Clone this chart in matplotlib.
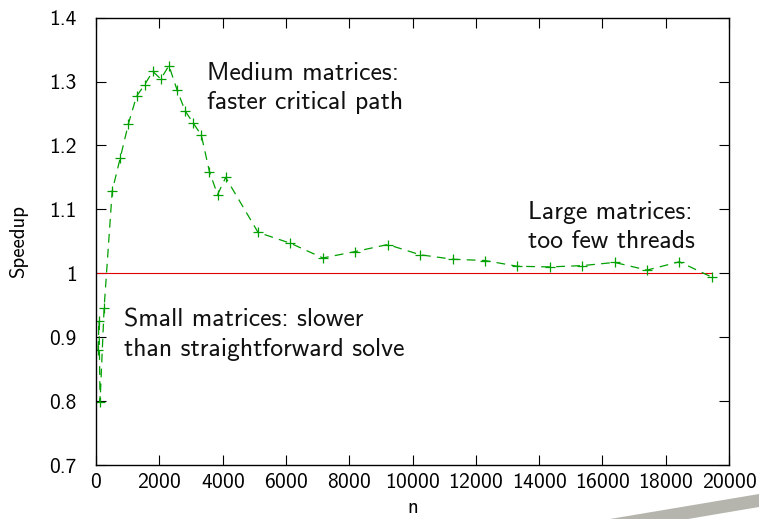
import matplotlib
matplotlib.use('Agg')
from matplotlib import pyplot as plt
from matplotlib.patches import Polygon

# matrix sizes and measured speedups
n_small = [64, 96, 128, 256]
n_mid = [512, 768, 1024, 1280, 1536, 1792, 2048, 2304, 2560, 2816, 3072, 3328, 3584, 3840, 4096]
n_large = [5120, 6144, 7168, 8192, 9216, 10240, 11264, 12288, 13312, 14336, 15360, 16384, 17408, 18432, 19456]

speedup_small = [0.880, 0.926, 0.799, 0.946]
speedup_mid = [1.129, 1.181, 1.234, 1.277, 1.295, 1.316, 1.304, 1.325, 1.287, 1.254,
               1.235, 1.216, 1.159, 1.123, 1.150]
speedup_large = [1.064, 1.047, 1.024, 1.034, 1.045, 1.029, 1.022, 1.020, 1.011, 1.010,
                 1.012, 1.017, 1.005, 1.018, 0.994]

n = n_small + n_mid + n_large
speedup = speedup_small + speedup_mid + speedup_large

plt.rcParams['font.family'] = ['cmss10', 'DejaVu Sans']
plt.rcParams['axes.formatter.use_mathtext'] = True

fig = plt.figure(figsize=(7.59, 5.19), dpi=100)
ax = fig.add_axes([0.1265, 0.104, 0.834, 0.862])

# baseline at speedup 1
ax.plot([0, n[-1]], [1, 1], color='#e00000', linewidth=0.8)
ax.plot(n, speedup, color='#00a000', linestyle=(0, (7, 5)), linewidth=0.9,
        marker='+', markersize=6.5, markeredgewidth=0.9)

ax.set_xlim(0, 20000)
ax.set_ylim(0.7, 1.4)
ax.set_xticks(range(0, 20001, 2000))
ax.set_yticks([0.7, 0.8, 0.9, 1.0, 1.1, 1.2, 1.3, 1.4])
ax.set_yticklabels(['0.7', '0.8', '0.9', '1', '1.1', '1.2', '1.3', '1.4'])
ax.tick_params(direction='in', length=7, width=0.8, top=True, right=True, labelsize=15.5)
ax.tick_params(axis='y', pad=14)
ax.tick_params(axis='x', pad=6)
for s in ax.spines.values():
    s.set_linewidth(1.0)

ax.set_xlabel('n', fontsize=15, labelpad=4)
ax.set_ylabel('Speedup', fontsize=15, labelpad=15)

ax.text(3500, 1.2895, 'Medium matrices:\nfaster critical path', fontsize=18.5,
        va='center', ha='left', linespacing=1.35, color='#111111')
ax.text(13650, 1.072, 'Large matrices:\ntoo few threads', fontsize=18.5,
        va='center', ha='left', linespacing=1.35, color='#111111')
ax.text(900, 0.9036, 'Small matrices: slower\nthan straightforward solve', fontsize=18.5,
        va='center', ha='left', linespacing=1.35, color='#111111')

# grey strip in the lower right corner
fig.patches.append(Polygon([(610 / 759, 0), (1, 25 / 519), (1, 12 / 519), (688 / 759, 0)],
                           closed=True, transform=fig.transFigure, facecolor='#b5b5ae',
                           edgecolor='none'))

fig.savefig('out.png', dpi=100)
